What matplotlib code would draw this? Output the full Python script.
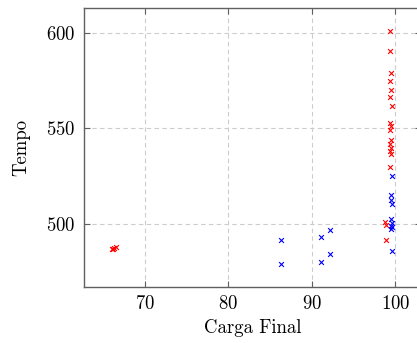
import matplotlib
matplotlib.use("Agg")
import matplotlib.pyplot as plt

plt.rcParams['font.family'] = ['cmr10', 'DejaVu Serif']
plt.rcParams['axes.formatter.use_mathtext'] = True

# red series (carga final, tempo)
red_x = [66.0, 66.3, 66.5, 66.2,
         99.4, 99.4, 99.5, 99.4, 99.5, 99.4, 99.6,
         99.4, 99.5, 99.4, 99.5, 99.4, 99.5, 99.4, 99.5,
         99.4, 98.7, 98.9, 98.9]
red_y = [487.0, 487.5, 487.8, 486.8,
         601.0, 590.6, 578.9, 574.9, 570.2, 566.4, 561.8,
         553.0, 551.0, 549.0, 544.0, 542.0, 540.0, 538.0, 536.5,
         530.0, 501.0, 499.5, 491.6]

# blue series
blue_x = [86.3, 86.3, 91.1, 91.1, 92.2, 92.2,
          99.6, 99.5, 99.5, 99.6, 99.5, 99.6, 99.6, 99.5, 99.5, 99.6]
blue_y = [491.6, 479.0, 493.3, 480.3, 496.9, 484.3,
          525.0, 514.9, 512.3, 510.6, 502.8, 500.5, 498.4, 497.5, 499.0, 485.9]

xticks = [70, 80, 90, 100]
yticks = [500, 550, 600]

fig = plt.figure(figsize=(4.17, 3.43), dpi=100)
ax = fig.add_axes([84 / 417, 1 - 287 / 343, 336.5 / 417, 279 / 343])

ax.scatter(red_x, red_y, marker='x', color='#ff0000', s=12, linewidths=0.8, zorder=3)
ax.scatter(blue_x, blue_y, marker='x', color='#0000ff', s=12, linewidths=0.8, zorder=3)

ax.set_xlim(62.7, 103.0)
ax.set_ylim(467, 613)
ax.set_xticks(xticks)
ax.set_yticks(yticks)

ax.grid(True, linestyle=(0, (4, 3)), color='#cccccc', linewidth=0.8)
ax.set_axisbelow(True)
for s in ax.spines.values():
    s.set_color('#606060')
    s.set_linewidth(1.0)
ax.tick_params(direction='in', top=True, right=True, length=4, width=0.8,
               color='#606060', labelsize=13.5)
ax.tick_params(axis='y', pad=6.5)
ax.tick_params(axis='x', pad=6)

ax.set_xlabel("Carga Final", fontsize=13.5, labelpad=4)
ax.set_ylabel("Tempo", fontsize=13.5, labelpad=11)

fig.savefig("out.png", dpi=100)
